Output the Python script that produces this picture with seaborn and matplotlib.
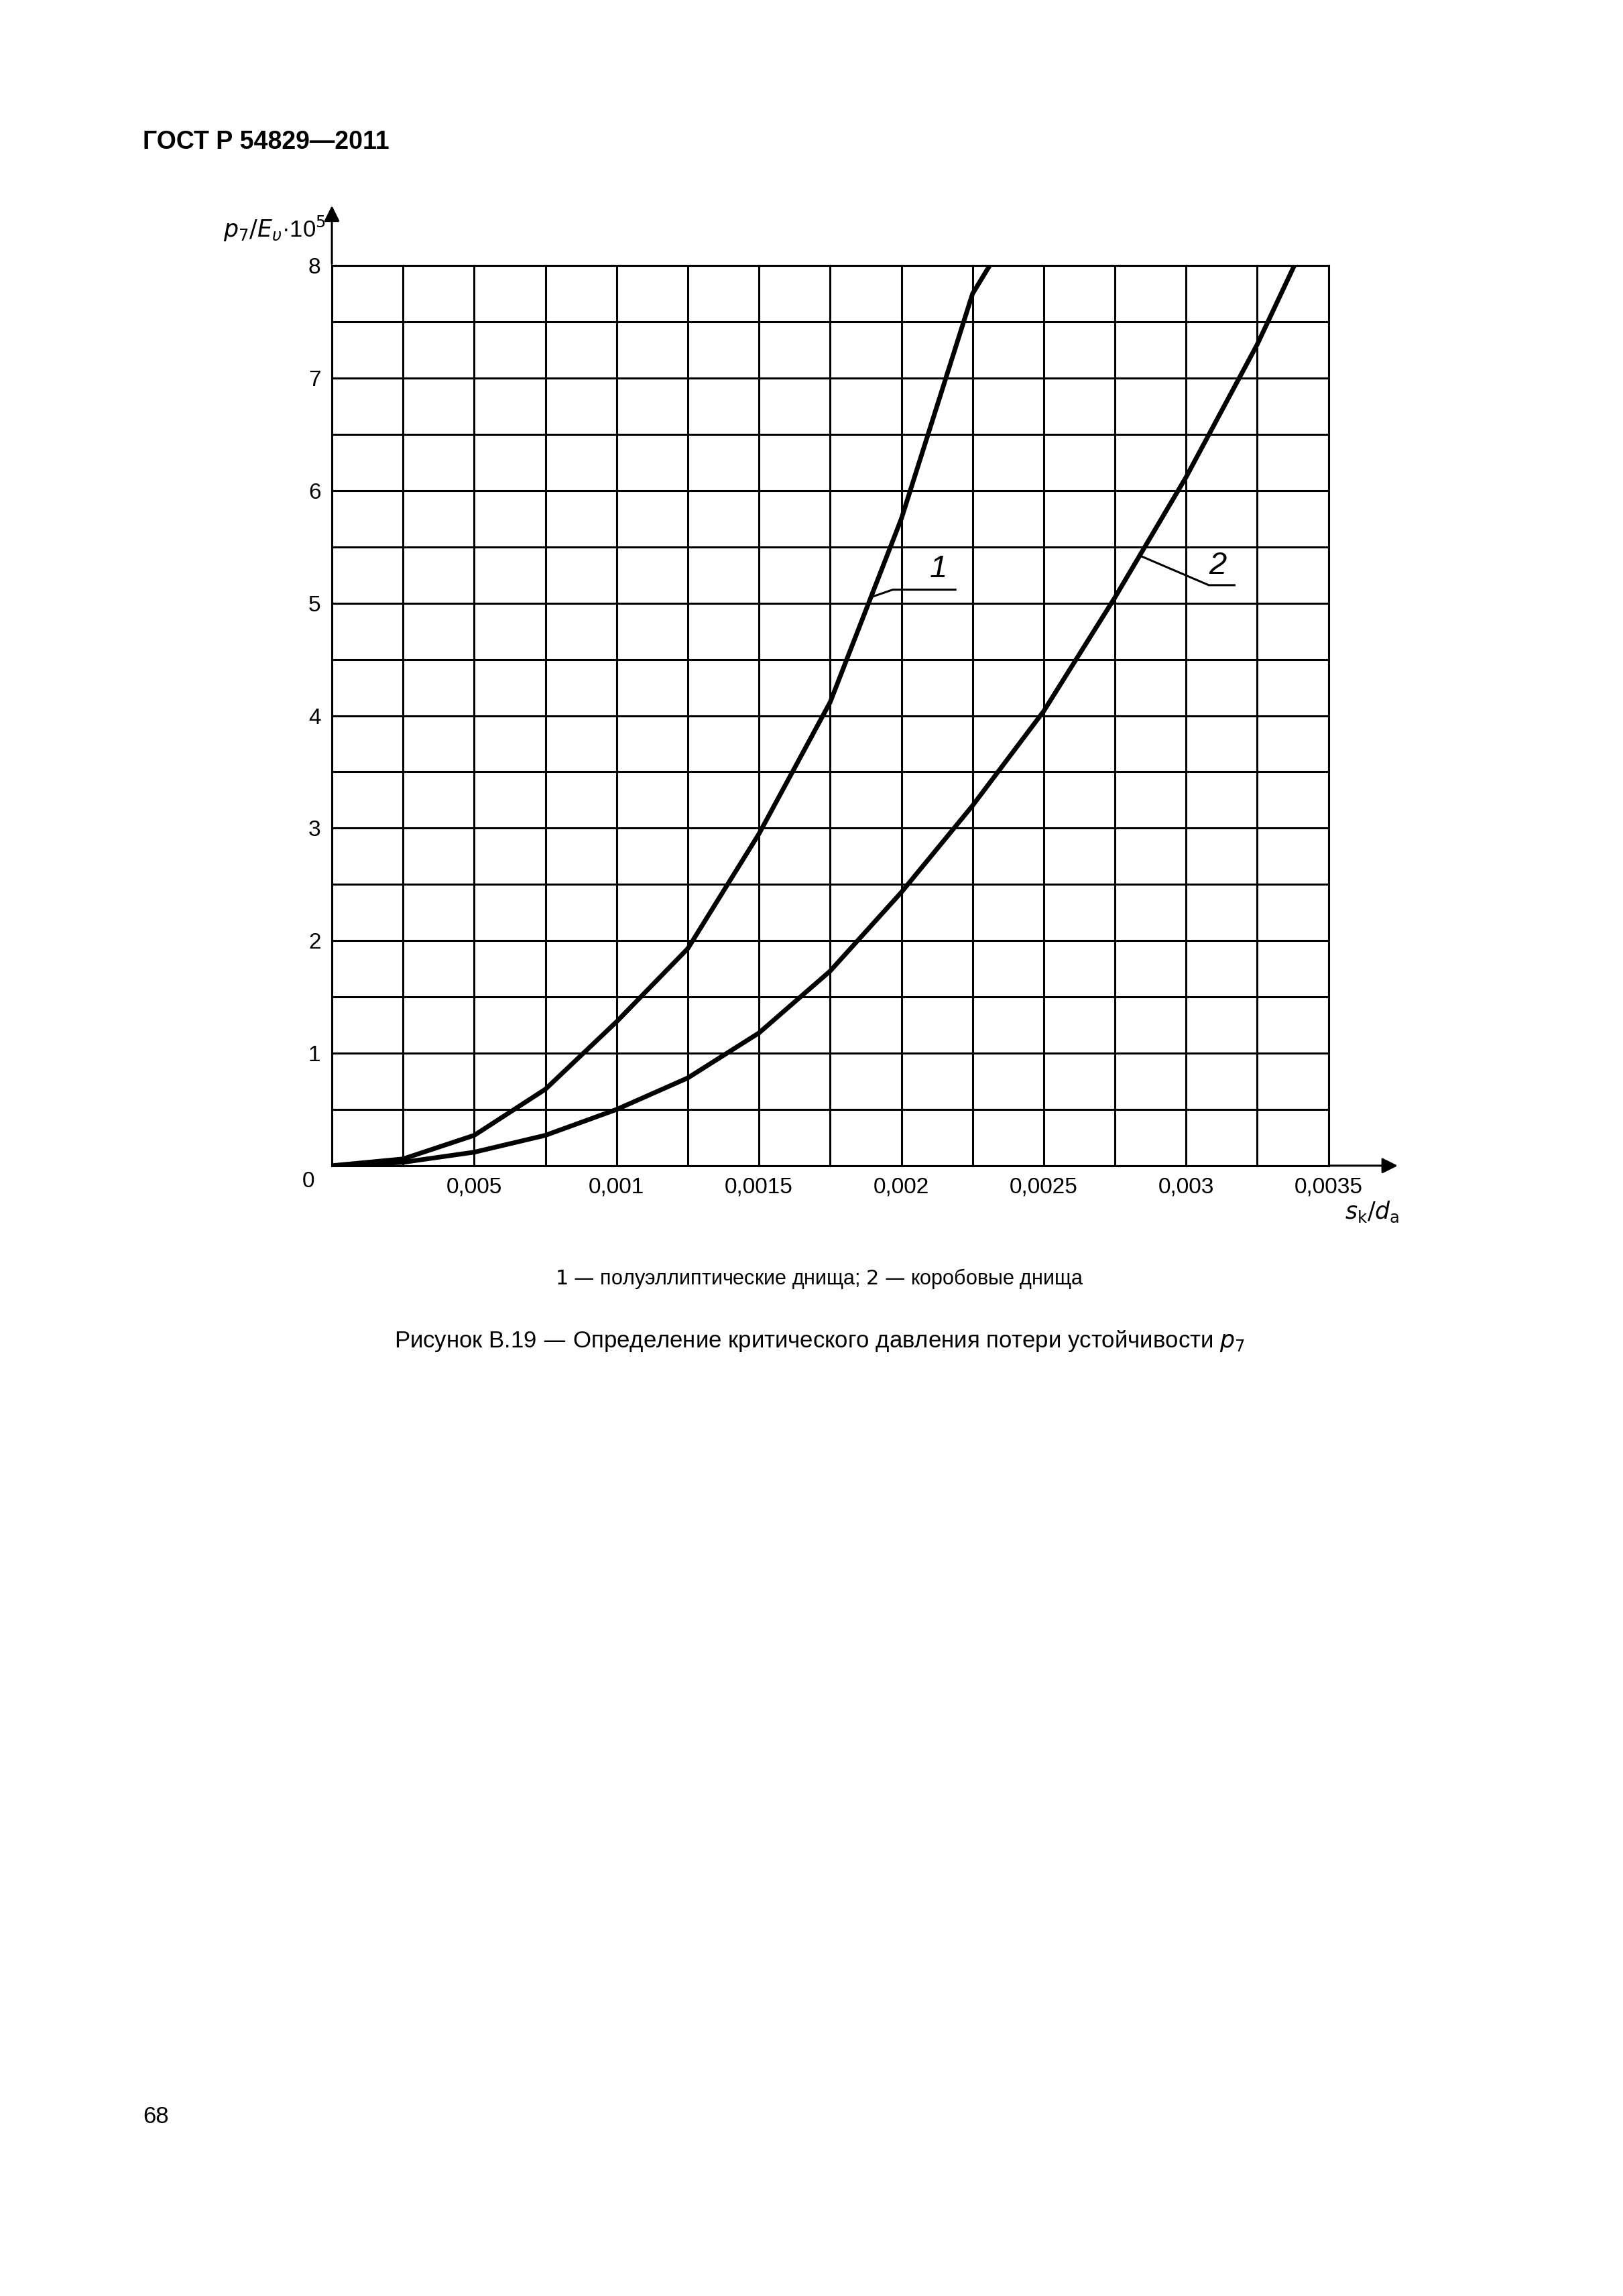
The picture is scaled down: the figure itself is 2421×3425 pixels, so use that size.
import numpy as np
import pandas as pd
import matplotlib.pyplot as plt
import seaborn as sns

plt.rcParams["font.family"] = "Liberation Sans"

# values
x1 = [0.0, 0.00025, 0.0005, 0.00075, 0.001, 0.00125, 0.0015, 0.00175, 0.002, 0.00225, 0.00231]
y1 = [0.0, 0.06, 0.27, 0.68, 1.28, 1.93, 2.95, 4.12, 5.75, 7.75, 8.0]
x2 = [0.0, 0.00025, 0.0005, 0.00075, 0.001, 0.00125, 0.0015, 0.00175, 0.002, 0.00225,
      0.0025, 0.00275, 0.003, 0.00325, 0.00338]
y2 = [0.0, 0.03, 0.12, 0.27, 0.5, 0.78, 1.18, 1.73, 2.43, 3.2, 4.04, 5.05, 6.12, 7.3, 8.0]
xtick_vals = [0.0005, 0.001, 0.0015, 0.002, 0.0025, 0.003, 0.0035]
xtick_labels = ["0,005", "0,001", "0,0015", "0,002", "0,0025", "0,003", "0,0035"]

df = pd.concat([
    pd.DataFrame({"x": x1, "y": y1, "curve": "1"}),
    pd.DataFrame({"x": x2, "y": y2, "curve": "2"}),
])

fig = plt.figure(figsize=(24.21, 34.25), dpi=100)
ax = fig.add_axes([0.2045, 0.4923, 0.614, 0.392])

ax.set_xticks(np.arange(0, 0.0035 + 1e-9, 0.00025), minor=True)
ax.set_yticks(np.arange(0, 8.01, 0.5), minor=True)
ax.grid(True, which="both", color="black", linewidth=2.2)
ax.set_axisbelow(True)

sns.lineplot(data=df, x="x", y="y", hue="curve", palette=["black", "black"],
             linewidth=5, legend=False, sort=False, ax=ax)

ax.set_xlim(0, 0.0035)
ax.set_ylim(0, 8)
ax.set_xticks(xtick_vals)
ax.set_xticklabels(xtick_labels)
ax.set_yticks(range(9))
ax.set_yticklabels([str(v) if v else "" for v in range(9)])
ax.tick_params(which="both", length=0, labelsize=24, pad=12)
ax.set_xlabel("")
ax.set_ylabel("")
for s in ax.spines.values():
    s.set_linewidth(2.2)

# axis arrows
ax.annotate("", xy=(0, 8.55), xytext=(0, 8), xycoords="data",
            arrowprops=dict(arrowstyle="-|>", color="black", lw=2.2, mutation_scale=35),
            annotation_clip=False)
ax.annotate("", xy=(0.00375, 0), xytext=(0.0035, 0),
            arrowprops=dict(arrowstyle="-|>", color="black", lw=2.2, mutation_scale=35),
            annotation_clip=False)
ax.text(-0.00002, 8.2, r"$p_7/E_\upsilon$·10$^5$", ha="right", va="bottom", fontsize=25)
ax.text(-0.00006, -0.05, "0", ha="right", va="top", fontsize=24)
ax.text(0.00375, -0.3, r"$s_\mathrm{k}/d_\mathrm{a}$", ha="right", va="top", fontsize=25)

# curve labels with leaders
ax.plot([0.00189, 0.00197, 0.00219], [5.05, 5.12, 5.12], color="black", lw=2.2)
ax.text(0.00213, 5.17, "1", fontsize=34, style="italic", ha="center", va="bottom")
ax.plot([0.00284, 0.00308, 0.00317], [5.42, 5.16, 5.16], color="black", lw=2.2)
ax.text(0.00311, 5.2, "2", fontsize=34, style="italic", ha="center", va="bottom")

fig.text(0.088, 0.938, "ГОСТ Р 54829—2011", fontsize=27, fontweight="bold", va="center")
fig.text(0.505, 0.443, "$\\it{1}$ — полуэллиптические днища; $\\it{2}$ — коробовые днища",
         fontsize=22, ha="center", va="center")
fig.text(0.505, 0.416, "Рисунок В.19 — Определение критического давления потери устойчивости $p_7$",
         fontsize=25, ha="center", va="center")
fig.text(0.088, 0.078, "68", fontsize=25, va="center")

fig.savefig("out.png", dpi=100)
